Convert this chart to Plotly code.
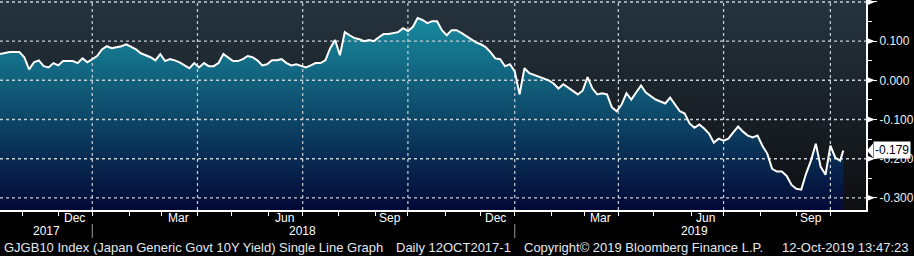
import pandas as pd
import plotly.graph_objects as go

# ---------------- data ----------------
start_date = "2017-10-12"
end_date = "2019-10-11"
axis_end_date = "2019-10-31"
step_bdays = 3  # one reading every 3 business days

yield_values = [
    0.067, 0.069, 0.072, 0.072, 0.072, 0.059, 0.028, 0.046, 0.051, 0.036,
    0.033, 0.044, 0.038, 0.049, 0.049, 0.049, 0.044, 0.056, 0.046, 0.054,
    0.062, 0.079, 0.087, 0.082, 0.085, 0.087, 0.092, 0.085, 0.079, 0.069,
    0.064, 0.059, 0.051, 0.067, 0.049, 0.054, 0.051, 0.046, 0.038, 0.031,
    0.044, 0.033, 0.044, 0.036, 0.036, 0.044, 0.067, 0.059, 0.049, 0.049,
    0.054, 0.062, 0.059, 0.051, 0.038, 0.041, 0.051, 0.051, 0.054, 0.044,
    0.038, 0.041, 0.036, 0.033, 0.038, 0.044, 0.044, 0.051, 0.082, 0.103,
    0.064, 0.123, 0.115, 0.108, 0.105, 0.100, 0.103, 0.100, 0.110, 0.118,
    0.118, 0.121, 0.123, 0.133, 0.126, 0.136, 0.159, 0.154, 0.146, 0.151,
    0.151, 0.128, 0.115, 0.128, 0.128, 0.121, 0.113, 0.103, 0.097, 0.092,
    0.085, 0.072, 0.056, 0.054, 0.036, 0.041, 0.023, -0.036, 0.031, 0.018,
    0.013, 0.008, 0.005, 0.000, -0.008, -0.021, -0.010, -0.018, -0.028, -0.036,
    -0.026, 0.008, -0.021, -0.036, -0.033, -0.036, -0.069, -0.079, -0.062, -0.033,
    -0.049, -0.031, -0.013, -0.031, -0.041, -0.049, -0.054, -0.059, -0.044, -0.062,
    -0.079, -0.085, -0.110, -0.121, -0.113, -0.123, -0.136, -0.159, -0.149, -0.154,
    -0.149, -0.133, -0.118, -0.131, -0.141, -0.146, -0.141, -0.167, -0.187, -0.226,
    -0.233, -0.233, -0.244, -0.267, -0.277, -0.279, -0.238, -0.205, -0.162, -0.221,
    -0.241, -0.167, -0.197, -0.205,
]
last_value = -0.179

y_tick_vals = [0.2, 0.1, 0.0, -0.1, -0.2, -0.3]
y_tick_text = ["", "0.100", "0.000", "-0.100", "-0.200", "-0.300"]
y_minor_vals = [0.15, 0.05, -0.05, -0.15, -0.25]

month_labels = ["Dec", "Mar", "Jun", "Sep", "Dec", "Mar", "Jun", "Sep"]
month_label_dates = ["2017-12-15", "2018-03-15", "2018-06-15", "2018-09-14",
                     "2018-12-14", "2019-03-15", "2019-06-14", "2019-09-13"]
year_labels = ["2017", "2018", "2019"]
year_label_dates = ["2017-11-22", "2018-07-02", "2019-06-05"]
year_starts = ["2018-01-01", "2019-01-01"]
quarter_starts = ["2018-01-01", "2018-04-02", "2018-07-02", "2018-10-01",
                  "2019-01-01", "2019-04-01", "2019-07-01", "2019-10-01"]

footer_texts = ["GJGB10 Index (Japan Generic Govt 10Y Yield) Single Line Graph",
                "Daily 12OCT2017-1",
                "Copyright\u00a9 2019 Bloomberg Finance L.P.",
                "12-Oct-2019 13:47:23"]

# ---------------- derived ----------------
bdays = pd.bdate_range(start_date, end_date)
dates = list(bdays[::step_bdays][:len(yield_values)]) + [bdays[-1]]
values = yield_values + [last_value]

ext = pd.bdate_range(start_date, axis_end_date)
month_firsts = ext.to_series().groupby(ext.to_period("M")).first()
month_ticks = [d for d in month_firsts if d > pd.Timestamp(start_date)]

Y_MIN, Y_MAX = -0.331, 0.205
W, H = 914, 256
ML, MR, MT, MB = 0, 45, 0, 46
PW = W - ML - MR
PH = H - MT - MB
FONT = "Liberation Sans, Arial, sans-serif"

def px_x(p):
    return p / PW

def px_y(p):  # pixel from top -> paper
    return (PH - p) / PH

fig = go.Figure()

# background gradient of the plotting area
fig.add_trace(go.Scatter(x=[start_date, axis_end_date], y=[Y_MIN, Y_MIN],
                         mode="lines", line=dict(width=0), hoverinfo="skip",
                         showlegend=False))
fig.add_trace(go.Scatter(x=[start_date, axis_end_date], y=[Y_MAX, Y_MAX],
                         mode="lines", line=dict(width=0), fill="tonexty",
                         fillgradient=dict(type="vertical",
                                           colorscale=[[0, "#0d0e10"], [1, "#26343f"]],
                                           start=Y_MIN, stop=Y_MAX),
                         hoverinfo="skip", showlegend=False))

# area under the series (fill only)
fig.add_trace(go.Scatter(x=dates, y=[Y_MIN] * len(dates), mode="lines",
                         line=dict(width=0), hoverinfo="skip", showlegend=False))
fig.add_trace(go.Scatter(x=dates, y=values, mode="lines",
                         line=dict(width=0),
                         fill="tonexty",
                         fillgradient=dict(type="vertical",
                                           colorscale=[[0, "#030836"], [1, "#1a97a8"]],
                                           start=Y_MIN, stop=Y_MAX),
                         hoverinfo="skip", showlegend=False))

# dotted grid drawn above the fills, below the series line
grid_col = "#c8d0d8"
for v in y_tick_vals:
    fig.add_trace(go.Scatter(x=[start_date, axis_end_date], y=[v, v], mode="lines",
                             line=dict(color=grid_col, width=1.4, dash="dot"),
                             hoverinfo="skip", showlegend=False))
for d in quarter_starts:
    fig.add_trace(go.Scatter(x=[d, d], y=[Y_MIN, Y_MAX], mode="lines",
                             line=dict(color=grid_col, width=1.2, dash="dot"),
                             hoverinfo="skip", showlegend=False))

# the series line
fig.add_trace(go.Scatter(x=dates, y=values, mode="lines",
                         line=dict(color="white", width=2),
                         hoverinfo="skip", showlegend=False))

shapes = []
for d in year_starts:
    shapes.append(dict(type="line", xref="x", yref="paper", x0=d, x1=d,
                       y0=px_y(224), y1=px_y(238),
                       line=dict(color="#9a9a9a", width=1), layer="above"))
dy = 3.2 * (Y_MAX - Y_MIN) / PH
for v in y_tick_vals:
    shapes.append(dict(type="path", xref="paper", yref="y",
                       path=f"M {px_x(PW+1)},{v+dy} L {px_x(PW+9)},{v} L {px_x(PW+1)},{v-dy} Z",
                       fillcolor="white", line=dict(color="white", width=0), layer="above"))
dy2 = 7 * (Y_MAX - Y_MIN) / PH
shapes.append(dict(type="path", xref="paper", yref="y",
                   path=f"M {px_x(PW+1)},{last_value} L {px_x(PW+7)},{last_value+dy2} "
                        f"L {px_x(PW+7)},{last_value-dy2} Z",
                   fillcolor="white", line=dict(color="white", width=0), layer="above"))

annotations = []
for lab, d in zip(month_labels, month_label_dates):
    annotations.append(dict(x=d, xref="x", y=px_y(218), yref="paper", text=lab,
                            showarrow=False, xanchor="center", yanchor="middle",
                            font=dict(family=FONT, size=12, color="#ffffff")))
for lab, d in zip(year_labels, year_label_dates):
    annotations.append(dict(x=d, xref="x", y=px_y(231), yref="paper", text=lab,
                            showarrow=False, xanchor="center", yanchor="middle",
                            font=dict(family=FONT, size=12, color="#ffffff")))
footer_x = [2, 395, 524, 783]
for t, xp in zip(footer_texts, footer_x):
    annotations.append(dict(x=px_x(xp), xref="paper", y=px_y(247), yref="paper", text=t,
                            showarrow=False, xanchor="left", yanchor="middle",
                            font=dict(family=FONT, size=13, color="#e4e9ef")))
annotations.append(dict(x=px_x(PW + 7), xref="paper", y=last_value, yref="y",
                        text=f"{last_value:.3f}", showarrow=False,
                        xanchor="left", yanchor="middle", bgcolor="white",
                        borderpad=1, font=dict(family=FONT, size=12, color="black")))

fig.update_layout(
    width=W, height=H,
    margin=dict(l=ML, r=MR, t=MT, b=MB),
    paper_bgcolor="black", plot_bgcolor="black",
    showlegend=False,
    hovermode=False,
    shapes=shapes,
    annotations=annotations,
    xaxis=dict(type="date", range=[start_date, axis_end_date],
               rangebreaks=[dict(bounds=["sat", "mon"])],
               tickmode="array", tickvals=month_ticks,
               ticktext=[""] * len(month_ticks),
               ticks="outside", ticklen=4, tickcolor="white", tickwidth=1,
               showgrid=False, zeroline=False,
               showline=True, linecolor="white", linewidth=2),
    yaxis=dict(side="right", range=[Y_MIN, Y_MAX],
               tickmode="array", tickvals=y_tick_vals, ticktext=y_tick_text,
               ticks="outside", ticklen=9, tickcolor="white", tickwidth=1,
               minor=dict(tickmode="array", tickvals=y_minor_vals, ticks="outside",
                          ticklen=4, tickcolor="white", tickwidth=1, showgrid=False),
               tickfont=dict(family=FONT, size=12, color="#e8eef4"),
               showgrid=False, zeroline=False,
               showline=True, linecolor="white", linewidth=2),
)

fig.write_html("out.html", config={"displayModeBar": False})
